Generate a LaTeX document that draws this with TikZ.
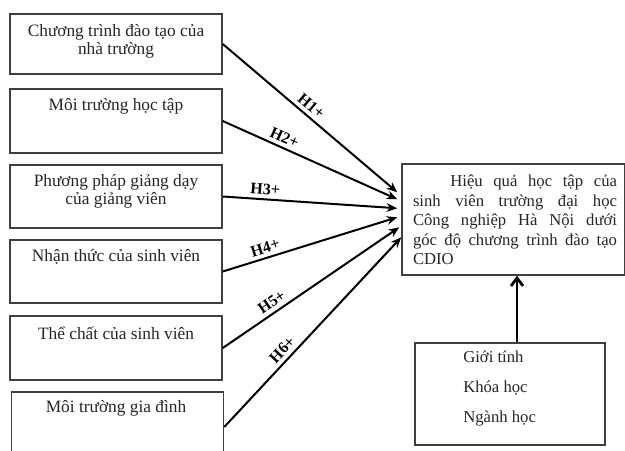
\documentclass[tikz,border=0pt]{standalone}
\usepackage{fontspec}
\setmainfont{Liberation Serif}
\usetikzlibrary{arrows.meta,calc}
\begin{document}
\begin{tikzpicture}[x=0.75pt,y=-0.75pt,
  box/.style={draw=black!75,line width=1.1pt,fill=white,minimum width=159pt,inner sep=0pt},
  txt/.style={align=center,font=\fontsize{13}{13.5}\selectfont,text=black!85,inner sep=0pt},
  arr/.style={line width=1.5pt,-{Stealth[length=8pt,width=6.5pt]}},
  lab/.style={font=\bfseries\fontsize{12}{12}\selectfont,above,sloped,inner sep=1pt,yshift=2pt}]
\useasboundingbox (0,0) rectangle (625,450);
\fill[white] (0,0) rectangle (625,450);
% left boxes
\node[box,minimum height=45pt] (b1) at (116,44) {};
\node[box,minimum height=48pt] (b2) at (116,121) {};
\node[box,minimum height=47.25pt] (b3) at (116,196.5) {};
\node[box,minimum height=47.25pt] (b4) at (116,271.5) {};
\node[box,minimum height=48pt] (b5) at (116,348) {};
\node[box,minimum height=52.5pt] (b6) at (117.5,427) {};
\node[txt] (t1) at (116,41) {Chương trình đào tạo của\\nhà trường};
\node[txt] (t2) at (116,106) {Môi trường học tập};
\node[txt] (t3) at (116,191) {Phương pháp giảng dạy\\của giảng viên};
\node[txt] (t4) at (116,257) {Nhận thức của sinh viên};
\node[txt] (t5) at (116,333) {Thể chất của sinh viên};
\node[txt] (t6) at (116,408) {Môi trường gia đình};
% target
\node[box,minimum width=167.25pt,minimum height=83.25pt] (tgt) at (513.5,219.5) {};
\node[inner sep=0pt,text width=153pt,align=justify,font=\fontsize{12.5}{14.6}\selectfont,text=black!85] (tt) at (515,220)
  {\hspace*{28pt}Hiệu quả học tập của\linebreak sinh viên trường đại học\linebreak Công nghiệp Hà Nội dưới\linebreak góc độ chương trình đào tạo\linebreak CDIO};
% bottom box
\node[box,minimum width=142.5pt,minimum height=76.5pt] (bot) at (510,394) {};
\node[inner sep=0pt,align=left,font=\fontsize{12.5}{22.5}\selectfont,text=black!85,anchor=west] (bt) at (463,388) {Giới tính\\Khóa học\\Ngành học};
% arrows
\draw[arr] (b1.east) -- node[lab,pos=0.47] {H1+} ($(tgt.north west)+(-4,29)$);
\draw[arr] (b2.east) -- node[lab,pos=0.33] {H2+} ($(tgt.north west)+(-4,36)$);
\draw[arr] (b3.east) -- node[lab,pos=0.24] {H3+} ($(tgt.north west)+(-4,45)$);
\draw[arr] (b4.east) -- node[lab,pos=0.26] {H4+} ($(tgt.north west)+(-4,54)$);
\draw[arr] (b5.east) -- node[lab,pos=0.31] {H5+} ($(tgt.north west)+(-2,64)$);
\draw[arr] (b6.east) -- node[lab,pos=0.37] {H6+} ($(tgt.north west)+(0,74)$);
\draw[line width=2pt,-{Straight Barb[length=6pt,width=9pt,line width=2pt]}] ($(bot.north)+(7,0)$) -- ($(tgt.south)+(3.5,0)$);
\end{tikzpicture}
\end{document}
